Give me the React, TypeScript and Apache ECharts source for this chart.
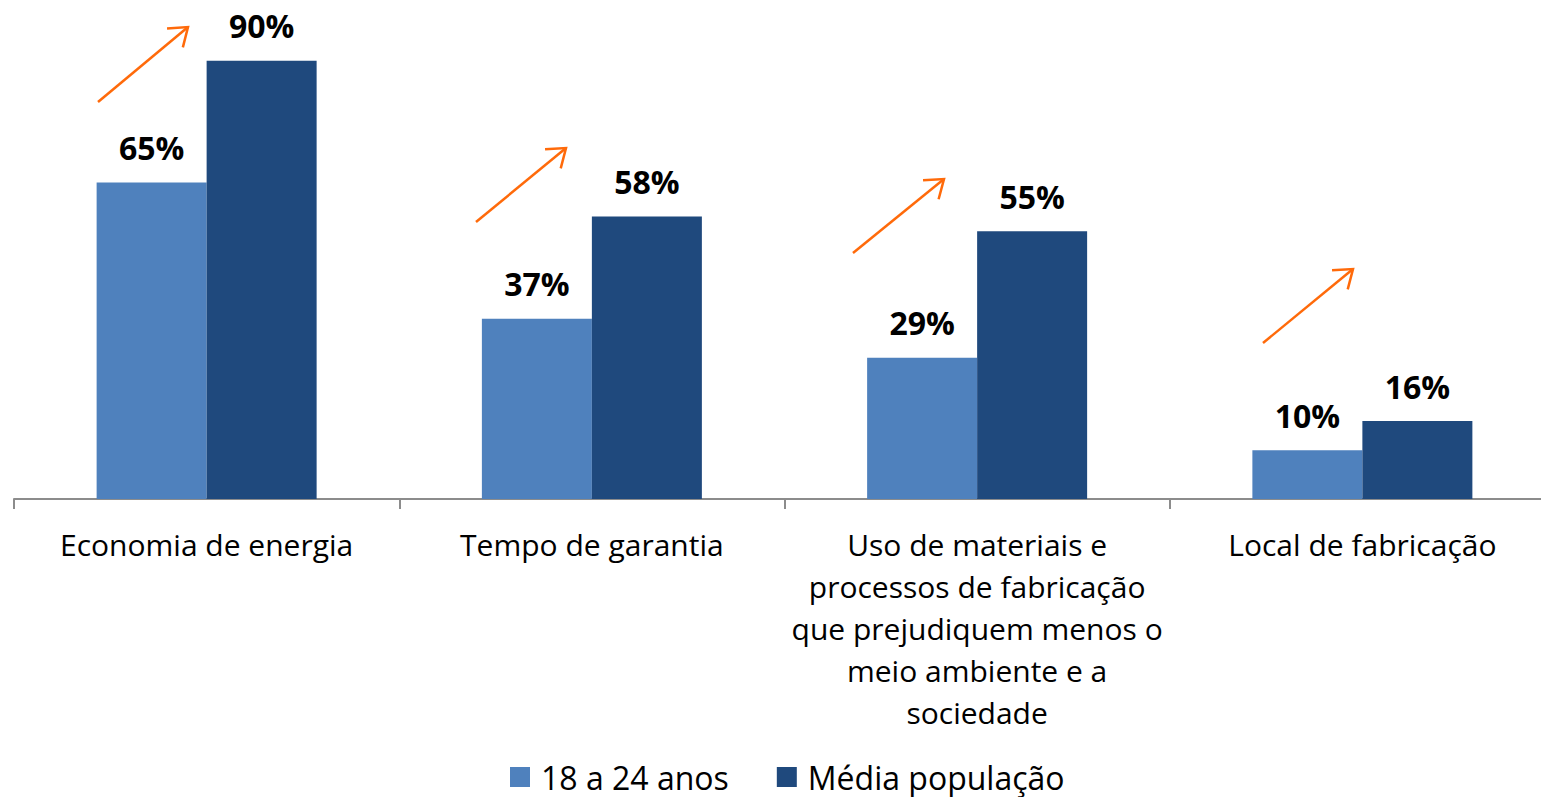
import React, { useEffect, useRef } from "react";
import * as echarts from "echarts";

const categories = [
  "Economia de energia",
  "Tempo de garantia",
  "Uso de materiais e\nprocessos de fabricação\nque prejudiquem menos o\nmeio ambiente e a\nsociedade",
  "Local de fabricação",
];
const seriesNames = ["18 a 24 anos", "Média população"];
const jovens = [65, 37, 29, 10];
const media = [90, 58, 55, 16];

// decorative orange arrows (annotation, pixel positions: start -> tip)
const arrows: [number, number, number, number][] = [
  [98, 102, 188, 27],
  [476, 222, 566, 148],
  [853, 253, 944, 179],
  [1263, 343, 1353, 269],
];

const FONT = "'Open Sans', sans-serif";

export default function App() {
  const ref = useRef<HTMLDivElement>(null);
  useEffect(() => {
    if (!ref.current) return;
    const chart = echarts.init(ref.current, undefined, { renderer: "svg" });
    const graphics: any[] = [];
    arrows.forEach(([x1, y1, x2, y2]) => {
      const ang = Math.atan2(y2 - y1, x2 - x1);
      const L = 21;
      const spread = (36 * Math.PI) / 180;
      const a1 = ang + Math.PI - spread;
      const a2 = ang + Math.PI + spread;
      const style = { stroke: "#FF6A0A", lineWidth: 2.5, fill: null };
      graphics.push({
        type: "line",
        shape: { x1, y1, x2, y2 },
        style,
      });
      graphics.push({
        type: "polyline",
        shape: {
          points: [
            [x2 + L * Math.cos(a1), y2 + L * Math.sin(a1)],
            [x2, y2],
            [x2 + L * Math.cos(a2), y2 + L * Math.sin(a2)],
          ],
        },
        style,
      });
    });
    const labelStyle = {
      show: true,
      position: "top",
      distance: 19,
      formatter: "{c}%",
      fontFamily: FONT,
      fontWeight: "bold",
      fontSize: 32,
      lineHeight: 32,
      color: "#000",
    };
    chart.setOption({
      animation: false,
      textStyle: { fontFamily: FONT },
      grid: { left: 14, right: 0, top: 12, bottom: 298, containLabel: false },
      legend: {
        data: seriesNames,
        left: 510,
        top: 759,
        padding: 0,
        icon: "rect",
        itemWidth: 20,
        itemHeight: 20,
        itemGap: 48,
        textStyle: {
          fontSize: 32,
          lineHeight: 36,
          color: "#000",
          fontFamily: FONT,
          padding: [0, 0, 0, 6],
        },
      },
      xAxis: {
        type: "category",
        data: categories,
        axisLine: { lineStyle: { color: "#8C8C8C", width: 2 } },
        axisTick: { show: true, length: 10, lineStyle: { color: "#8C8C8C", width: 2 } },
        axisLabel: {
          interval: 0,
          margin: 24,
          fontSize: 30,
          lineHeight: 42,
          color: "#000",
          fontFamily: FONT,
          align: "center",
          verticalAlign: "top",
        },
      },
      yAxis: { type: "value", min: 0, max: 100, show: false, splitLine: { show: false } },
      series: [
        {
          name: seriesNames[0],
          type: "bar",
          data: jovens,
          barWidth: 110,
          barGap: "0%",
          itemStyle: { color: "#4F81BD" },
          label: labelStyle,
        },
        {
          name: seriesNames[1],
          type: "bar",
          data: media,
          barWidth: 110,
          barGap: "0%",
          itemStyle: { color: "#1F497D" },
          label: labelStyle,
        },
      ],
      graphic: graphics,
    });
    return () => chart.dispose();
  }, []);
  return (
    <div
      ref={ref}
      style={{ position: "fixed", left: 0, top: 0, width: 1555, height: 797, background: "#fff" }}
    />
  );
}
